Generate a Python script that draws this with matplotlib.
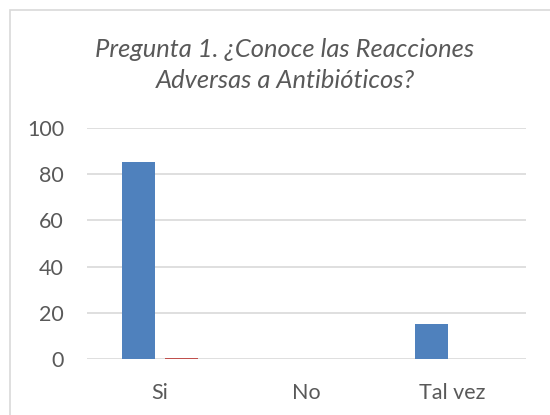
import numpy as np
import matplotlib.pyplot as plt
from matplotlib.patches import Rectangle

categories = ['Si', 'No', 'Tal vez']
serie1 = [85, 0, 15]
serie2 = [0.6, 0, 0]
yticks = [0, 20, 40, 60, 80, 100]

plt.rcParams['font.family'] = ['Lato', 'DejaVu Sans']

fig = plt.figure(figsize=(5.5, 4.15), dpi=100)
ax = fig.add_axes([0.158, 0.135, 0.798, 0.557])

x = np.arange(len(categories))
w = 0.226
ax.bar(x - 0.145, serie1, w, color='#4F81BD', zorder=3)
ax.bar(x + 0.145, serie2, w, color='#C0504D', zorder=3)

ax.set_xlim(-0.5, 2.5)
ax.set_ylim(0, 100)
ax.set_yticks(yticks)
ax.set_xticks(x)
ax.set_xticklabels(categories)
ax.grid(axis='y', color='#D9D9D9', lw=1.2, zorder=0)
for s in ax.spines.values():
    s.set_visible(False)
ax.tick_params(length=0, labelsize=15.5, colors='#595959')
ax.tick_params(axis='y', pad=16.5)
ax.tick_params(axis='x', pad=17.5)

fig.text(0.518, 0.843, 'Pregunta 1. ¿Conoce las Reacciones\nAdversas a Antibióticos?',
         ha='center', va='center', fontsize=18.4, style='italic', color='#595959',
         linespacing=1.45)

fig.patches.append(Rectangle((10 / 550, -0.1), 1.2, (415 - 10) / 415 + 0.1,
                             transform=fig.transFigure, fill=False,
                             edgecolor='#D9D9D9', lw=1.2))

fig.savefig('out.png', dpi=100)
